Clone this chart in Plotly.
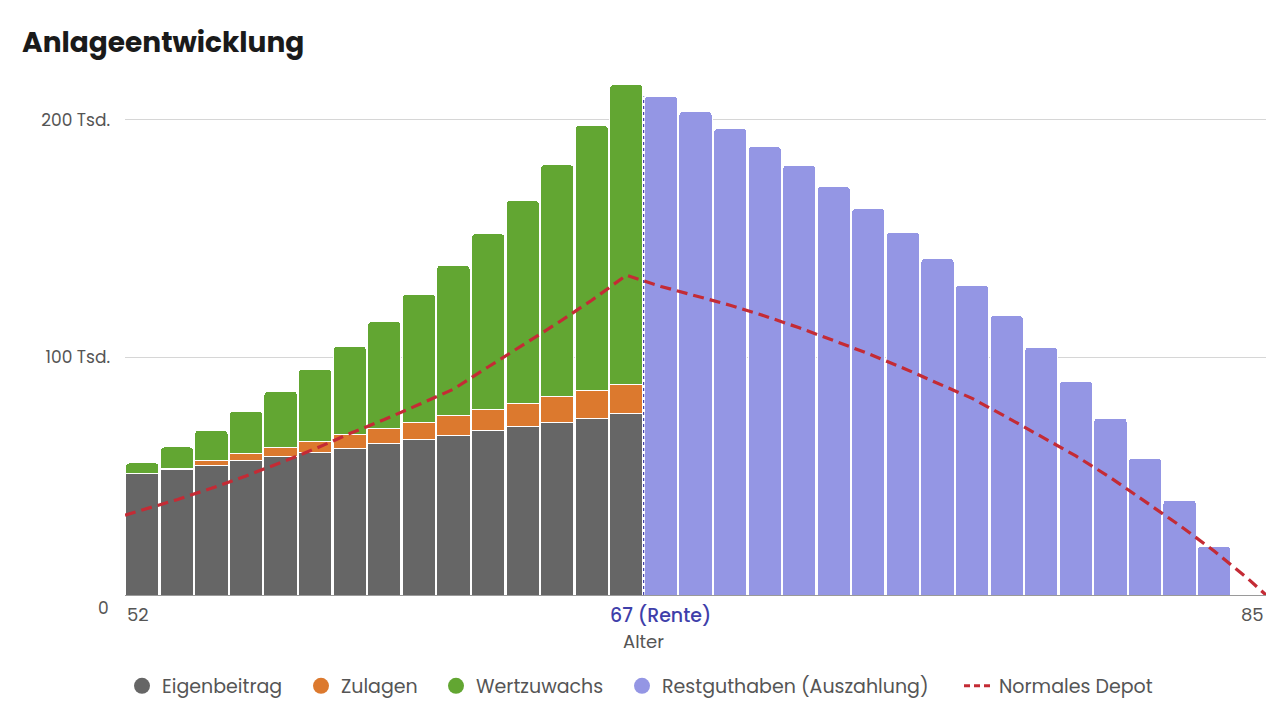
import plotly.graph_objects as go

# ---- data (values in EUR) ----
ages_saving = list(range(52, 67))
eigenbeitrag = [51100, 52800, 54500, 56600, 58300, 60000, 61600, 63700, 65400, 67100, 69200, 70900, 72600, 74100, 76300]
zulagen = [0, 500, 1900, 2900, 3700, 4600, 6000, 6300, 7100, 8400, 8800, 9600, 10900, 11900, 12200]
wertzuwachs = [4500, 9000, 12900, 17800, 23700, 30400, 37000, 45100, 54000, 63200, 74000, 85500, 97500, 111500, 126200]

ages_payout = list(range(67, 84))
restguthaben = [209700, 203400, 196200, 188700, 180700, 171800, 162600, 152500, 141600, 130300,
                117600, 104200, 89900, 74400, 57600, 39900, 20600]

depot_age = [52, 52.5, 53.5, 54.5, 55.5, 56.5, 57.5, 58.5, 59.5, 60.5, 61.5, 62.5, 63.5, 64.5, 65.5, 66.5,
             67.5, 68.5, 69.5, 70.5, 71.5, 72.5, 73.5, 74.5, 75.5, 76.5, 77.5, 78.5, 79.5, 80.5,
             81.5, 82.5, 83.5, 84.5, 85]
depot_value = [33600, 35800, 40100, 44900, 50100, 55700, 61500, 67900, 73800, 80100, 86600, 95900, 105200,
               114300, 124000, 134500, 129800, 125900, 121900, 117400, 112400, 107000, 101500, 95500,
               89100, 82700, 74800, 66600, 58500, 49400, 39400, 29300, 18500, 6600, 0]

y_tickvals = [100000, 200000]
y_ticktext = ["100 Tsd.", "200 Tsd."]
x_labels = [(52, "52"), (67, "67 (Rente)"), (85, "85")]
rente_age = 67

# ---- styles ----
FONT = "Poppins, 'Open Sans', sans-serif"
C_GRAY = "#666666"
C_ORANGE = "#DC792E"
C_GREEN = "#62A632"
C_PURPLE = "#9496E4"
C_RED = "#C42B35"
C_BLUE = "#3F3FAA"
TXT = "#555555"
W, H = 1288, 716

fig = go.Figure()
bar_line = dict(color="white", width=1)

def centers(ages):
    return [a + 0.5 for a in ages]

fig.add_trace(go.Bar(x=centers(ages_saving), y=eigenbeitrag, name="Eigenbeitrag",
                     marker=dict(color=C_GRAY, line=bar_line), showlegend=False))
fig.add_trace(go.Bar(x=centers(ages_saving), y=zulagen, name="Zulagen",
                     marker=dict(color=C_ORANGE, line=bar_line), showlegend=False))
fig.add_trace(go.Bar(x=centers(ages_saving), y=wertzuwachs, name="Wertzuwachs",
                     marker=dict(color=C_GREEN, line=bar_line), showlegend=False))
fig.add_trace(go.Bar(x=centers(ages_payout), y=restguthaben, name="Restguthaben (Auszahlung)",
                     marker=dict(color=C_PURPLE, line=bar_line), showlegend=False))
fig.add_trace(go.Scatter(x=depot_age, y=depot_value, mode="lines", name="Normales Depot",
                         line=dict(color=C_RED, width=3.2, dash="11px,6px"), showlegend=False))

# legend entries (circles like the original), each in its own positioned legend
legend_items = [("Eigenbeitrag", C_GRAY, 122), ("Zulagen", C_ORANGE, 301), ("Wertzuwachs", C_GREEN, 436),
                ("Restguthaben (Auszahlung)", C_PURPLE, 622)]
legend_layout = {}
for i, (name, col, px) in enumerate(legend_items):
    lid = "legend" if i == 0 else f"legend{i + 1}"
    fig.add_trace(go.Scatter(x=[None], y=[None], mode="markers", name=name, legend=lid,
                             marker=dict(color=col, size=17, symbol="circle")))
    legend_layout[lid] = px
fig.add_trace(go.Scatter(x=[None], y=[None], mode="lines", name="Normales Depot", legend="legend5",
                         line=dict(color=C_RED, width=3, dash="6px,4px")))
legend_layout["legend5"] = 959

for lid, px in legend_layout.items():
    fig.update_layout({lid: dict(orientation="h", x=px / W, xanchor="left", xref="container",
                                 y=(H - 686) / H, yanchor="middle", yref="container",
                                 bgcolor="rgba(0,0,0,0)", borderwidth=0,
                                 font=dict(family=FONT, size=19, color=TXT), itemclick=False)})

# retirement divider
fig.add_shape(type="line", x0=rente_age, x1=rente_age, y0=0, y1=restguthaben[0],
              xref="x", yref="y", line=dict(color=C_BLUE, width=1.2, dash="dot"), layer="above")

# x labels
for age, txt in x_labels:
    anchor = "left" if age == 52 else ("right" if age == 85 else "center")
    xpos = age + 0.5 if anchor == "center" else age
    fig.add_annotation(x=xpos, y=0, xref="x", yref="paper", text=txt, showarrow=False,
                       xanchor=anchor, yanchor="top", yshift=-5,
                       font=dict(family=FONT, size=19 if age == rente_age else 18,
                                 color=C_BLUE if age == rente_age else TXT,
                                 weight=500 if age == rente_age else 400))
fig.add_annotation(x=rente_age, y=0, xref="x", yref="paper", text="Alter", showarrow=False,
                   xanchor="center", yanchor="top", yshift=-32, font=dict(family=FONT, size=18, color=TXT))
fig.add_annotation(x=0, y=0, xref="paper", yref="y", text="0", showarrow=False,
                   xanchor="right", yanchor="middle", xshift=-14, yshift=-13,
                   font=dict(family=FONT, size=17, color=TXT))

fig.update_layout(
    width=W, height=H,
    margin=dict(l=125, r=22, t=72, b=121),
    paper_bgcolor="white", plot_bgcolor="white",
    barmode="stack", bargap=0.04, barcornerradius=4,
    font=dict(family=FONT, size=17, color=TXT),
    title=dict(text="<b>Anlageentwicklung</b>", x=22 / W, xanchor="left", xref="container",
               y=1 - 42 / H, yanchor="middle", yref="container",
               font=dict(family=FONT, size=28, color="#1a1a1a")),
    xaxis=dict(range=[52, 85], showgrid=False, zeroline=False, showticklabels=False,
               showline=True, linecolor="#9a9a9a", linewidth=1, fixedrange=True),
    yaxis=dict(range=[0, 220000], tickvals=y_tickvals, ticktext=y_ticktext, showgrid=True,
               gridcolor="#d6d6d6", gridwidth=1, zeroline=False, ticklabelstandoff=14,
               tickfont=dict(family=FONT, size=17, color=TXT)),
    hovermode=False,
)

fig.write_html("out.html")
